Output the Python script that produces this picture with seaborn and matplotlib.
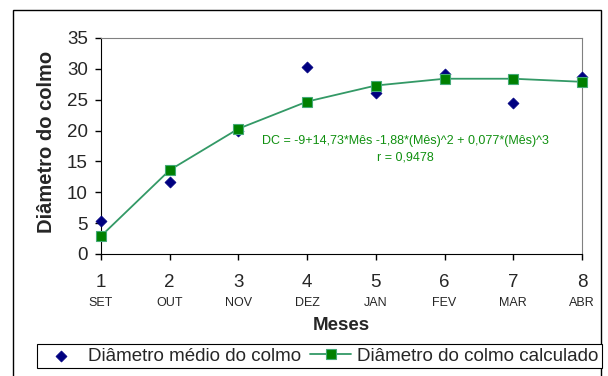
import matplotlib
matplotlib.use('Agg')
import matplotlib.pyplot as plt
import seaborn as sns
import pandas as pd
from matplotlib.patches import Rectangle

meses = [1, 2, 3, 4, 5, 6, 7, 8]
nomes = ['SET', 'OUT', 'NOV', 'DEZ', 'JAN', 'FEV', 'MAR', 'ABR']
medio = [5.3, 11.6, 20.0, 30.3, 26.1, 29.1, 24.5, 28.6]
calculado = [2.9, 13.6, 20.3, 24.7, 27.3, 28.4, 28.4, 27.9]

df = pd.DataFrame({'mes': meses, 'medio': medio, 'calc': calculado})

sns.set_style('white')
plt.rcParams['font.family'] = ['Liberation Sans', 'DejaVu Sans']

fig = plt.figure(figsize=(6.08, 3.76), dpi=100)
ax = fig.add_axes([101/608, 1-254/376, 481/608, 216/376])

sns.scatterplot(x='mes', y='medio', data=df, ax=ax, color='#000080', marker='D',
                s=32, edgecolor='#000080', label='Diâmetro médio do colmo',
                clip_on=False, zorder=3)
sns.lineplot(x='mes', y='calc', data=df, ax=ax, color='#339966', lw=1.3,
             marker='s', markersize=7, markerfacecolor='#008000',
             markeredgecolor='#44aa77', markeredgewidth=0.8,
             label='Diâmetro do colmo calculado', clip_on=False, zorder=4)

ax.set_xlim(1, 8)
ax.set_ylim(0, 35)
ax.set_xticks(meses)
ax.set_yticks(range(0, 36, 5))
ax.tick_params(axis='both', labelsize=13.5, direction='out', length=4.5, width=1,
               color='black', left=True, bottom=True)
ax.tick_params(axis='x', pad=10)
ax.tick_params(axis='y', pad=5)
for i, n in zip(meses, nomes):
    ax.text(i, -0.228, n, transform=ax.get_xaxis_transform(), ha='center',
            va='center', fontsize=9)

ax.set_xlabel('Meses', fontsize=13.5, fontweight='bold', va='center')
ax.set_ylabel('Diâmetro do colmo', fontsize=14.5, fontweight='bold', va='center')
ax.xaxis.set_label_coords(0.5, -0.333)
ax.yaxis.set_label_coords(-0.114, 0.52)

for s in ['left', 'bottom']:
    ax.spines[s].set_color('black')
for s in ['top', 'right']:
    ax.spines[s].set_color('#808080')

ax.text(0.632, 0.523, 'DC = -9+14,73*Mês -1,88*(Mês)^2 + 0,077*(Mês)^3',
        transform=ax.transAxes, ha='center', va='center', fontsize=9, color='#109010')
ax.text(0.632, 0.449, 'r = 0,9478', transform=ax.transAxes, ha='center',
        va='center', fontsize=9, color='#109010')

h, l = ax.get_legend_handles_labels()
ax.get_legend().remove()
leg = fig.legend(h, l, ncol=2, loc='center', bbox_to_anchor=(319.5/608, 1-356/376),
                 fontsize=13.5, frameon=True, fancybox=False, edgecolor='black',
                 framealpha=1, borderpad=0.2, handlelength=2.2, handletextpad=0.3,
                 columnspacing=0.5, borderaxespad=0)
leg.get_frame().set_linewidth(0.8)

fig.patches.append(Rectangle((13/608, -0.01), 588/608, 1-10/376+0.01,
                             transform=fig.transFigure, fill=False,
                             edgecolor='black', lw=1))

fig.savefig('out.png', dpi=100)
